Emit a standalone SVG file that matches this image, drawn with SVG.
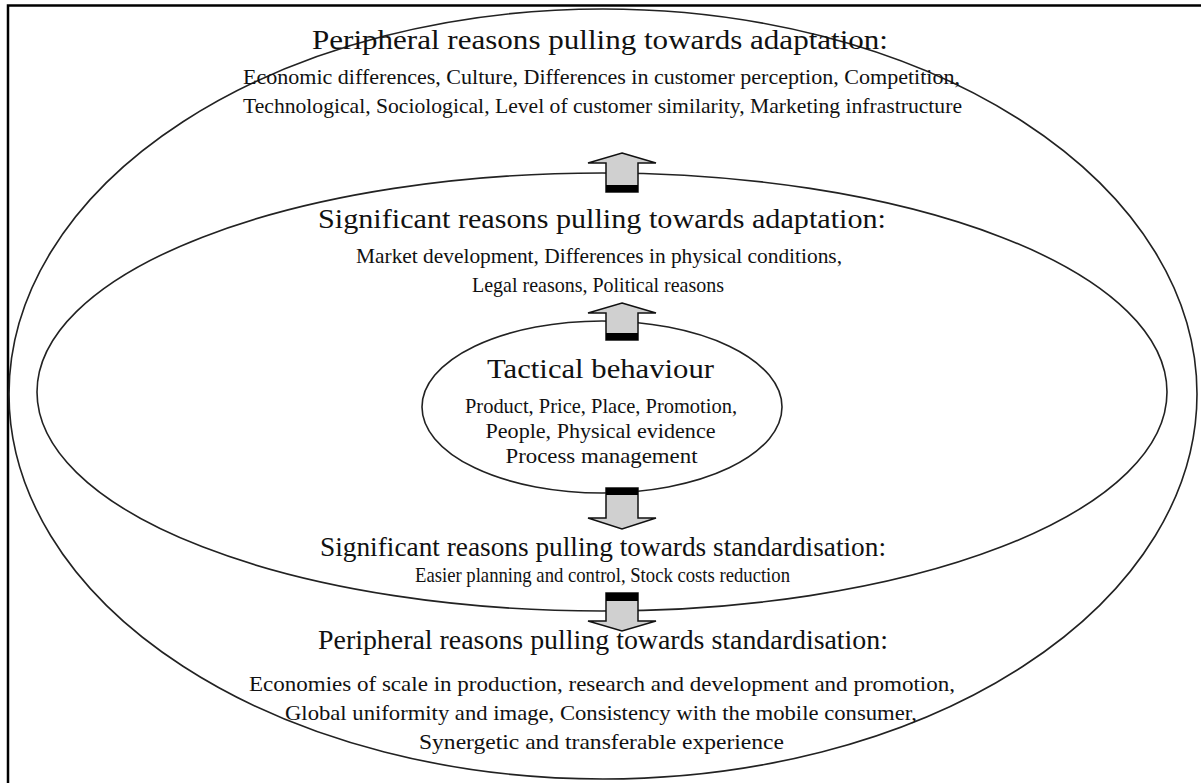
<svg xmlns="http://www.w3.org/2000/svg" width="1201" height="783" viewBox="0 0 1201 783">
<style>
.ell{fill:none;stroke:#222;stroke-width:1.6}
.arr{fill:#d0d0d0;stroke:#111;stroke-width:1.5}
.bar{fill:#000}
text{font-family:"Liberation Serif","Times New Roman",serif;fill:#111;text-anchor:middle}
.h1{font-size:28px}
.t1{font-size:21.5px}
.h2{font-size:28px}
</style>
<rect width="1201" height="783" fill="#fff"/>
<path d="M8,783 V5.5 H1201" fill="none" stroke="#000" stroke-width="2.5"/>
<g id="outer">
<ellipse class="ell" cx="603" cy="394" rx="594" ry="385"/>
<text class="h1" x="600" y="49" textLength="576" lengthAdjust="spacingAndGlyphs">Peripheral reasons pulling towards adaptation:</text>
<text class="t1" x="601.5" y="84" textLength="717" lengthAdjust="spacingAndGlyphs">Economic differences, Culture, Differences in customer perception, Competition,</text>
<text class="t1" x="602.5" y="113" textLength="719" lengthAdjust="spacingAndGlyphs">Technological, Sociological, Level of customer similarity, Marketing infrastructure</text>
<text class="h1" x="603" y="649" textLength="570" lengthAdjust="spacingAndGlyphs">Peripheral reasons pulling towards standardisation:</text>
<text class="t1" x="602" y="691" textLength="706" lengthAdjust="spacingAndGlyphs">Economies of scale in production, research and development and promotion,</text>
<text class="t1" x="601" y="720" textLength="632" lengthAdjust="spacingAndGlyphs">Global uniformity and image, Consistency with the mobile consumer,</text>
<text class="t1" x="601.5" y="749" textLength="365" lengthAdjust="spacingAndGlyphs">Synergetic and transferable experience</text>
</g>
<g id="middle">
<ellipse class="ell" cx="602" cy="392" rx="565" ry="219"/>
<text class="h1" x="602" y="228" textLength="568" lengthAdjust="spacingAndGlyphs">Significant reasons pulling towards adaptation:</text>
<text class="t1" x="599" y="263" textLength="486" lengthAdjust="spacingAndGlyphs">Market development, Differences in physical conditions,</text>
<text class="t1" x="598" y="292" textLength="252" lengthAdjust="spacingAndGlyphs">Legal reasons, Political reasons</text>
<text class="h1" x="603" y="556" textLength="566" lengthAdjust="spacingAndGlyphs">Significant reasons pulling towards standardisation:</text>
<text class="t1" x="602.5" y="582" textLength="375" lengthAdjust="spacingAndGlyphs">Easier planning and control, Stock costs reduction</text>
</g>
<g id="inner">
<ellipse class="ell" cx="602" cy="407" rx="180" ry="86"/>
<text class="h2" x="600.5" y="378" textLength="227" lengthAdjust="spacingAndGlyphs">Tactical behaviour</text>
<text class="t1" x="601" y="413" textLength="272" lengthAdjust="spacingAndGlyphs">Product, Price, Place, Promotion,</text>
<text class="t1" x="600.5" y="438" textLength="230" lengthAdjust="spacingAndGlyphs">People, Physical evidence</text>
<text class="t1" x="601.5" y="463" textLength="192" lengthAdjust="spacingAndGlyphs">Process management</text>
</g>
<g id="connectors">
<polygon class="arr" points="622,153 656,163 638,163 638,192 606,192 606,163 588,163"/>
<rect class="bar" x="606" y="185" width="32" height="7"/>
<polygon class="arr" points="622,303 656,313 638,313 638,340 606,340 606,313 588,313"/>
<rect class="bar" x="606" y="333" width="32" height="7"/>
<polygon class="arr" points="606,488 638,488 638,518 656,518 622,529 588,518 606,518"/>
<rect class="bar" x="606" y="488" width="32" height="7"/>
<polygon class="arr" points="606,593 638,593 638,621 656,621 622,631 588,621 606,621"/>
<rect class="bar" x="606" y="593" width="32" height="8"/>
</g>
</svg>
